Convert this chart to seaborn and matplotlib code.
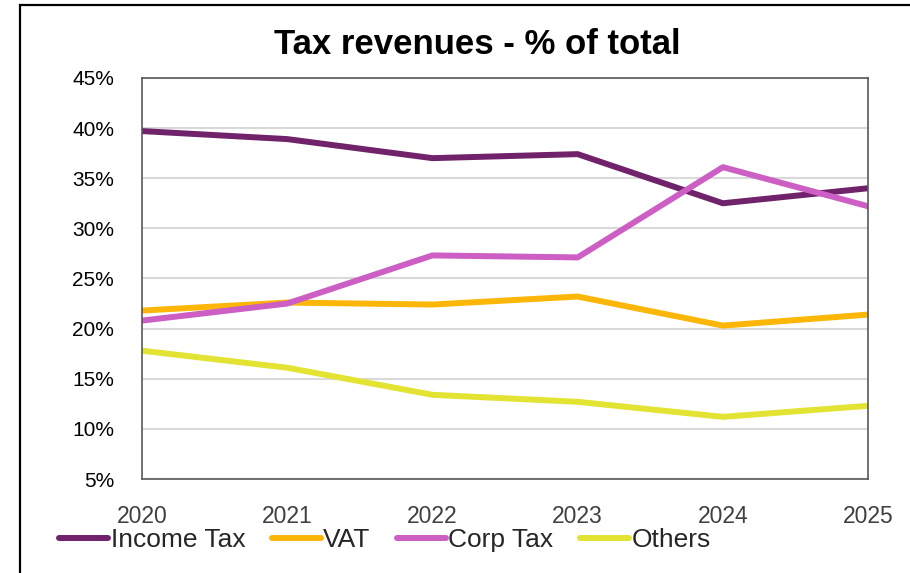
import matplotlib
matplotlib.use("Agg")
import matplotlib.pyplot as plt
from matplotlib.patches import Rectangle
from matplotlib.ticker import FuncFormatter
import pandas as pd
import seaborn as sns

years = [2020, 2021, 2022, 2023, 2024, 2025]
income_tax = [39.7, 38.9, 37.0, 37.4, 32.5, 34.0]
vat = [21.8, 22.6, 22.4, 23.2, 20.3, 21.4]
corp_tax = [20.8, 22.5, 27.3, 27.1, 36.1, 32.2]
others = [17.8, 16.1, 13.4, 12.7, 11.2, 12.3]

series_names = ["Income Tax", "VAT", "Corp Tax", "Others"]
series_colors = ["#70226A", "#FBB608", "#CC5EC4", "#E2E332"]

df = pd.DataFrame({
    "year": years * 4,
    "share": income_tax + vat + corp_tax + others,
    "tax": [n for n in series_names for _ in years],
})

sns.set_theme(style="white")
plt.rcParams["font.family"] = ["Liberation Sans", "DejaVu Sans"]

fig = plt.figure(figsize=(9.1, 5.73), dpi=100)
ax = fig.add_axes([0.156, 0.164, 0.798, 0.700])

sns.lineplot(data=df, x="year", y="share", hue="tax", hue_order=series_names,
             palette=series_colors, linewidth=4.3, ax=ax, legend=True)
for ln in ax.lines:
    ln.set_solid_capstyle("round")
    ln.set_solid_joinstyle("round")

ax.set_xlim(2020, 2025)
ax.set_ylim(5, 45)
ax.set_xticks(years)
ax.set_yticks(range(5, 46, 5))
ax.yaxis.set_major_formatter(FuncFormatter(lambda v, p: f"{v:.0f}%"))
ax.set_xlabel("")
ax.set_ylabel("")
ax.grid(axis="y", color="#D9D9D9", linewidth=1.5)
ax.set_axisbelow(True)
ax.tick_params(axis="y", length=0, pad=20, labelsize=15, labelcolor="black")
ax.tick_params(axis="x", length=0, pad=19, labelsize=16.5, labelcolor="#404040")
for s in ax.spines.values():
    s.set_color("#595959")
    s.set_linewidth(1.2)

handles, labels = ax.get_legend_handles_labels()
ax.get_legend().remove()
for h in handles:
    h.set_linewidth(4.3)
    h.set_solid_capstyle("round")
fig.legend(handles, labels, loc="center", bbox_to_anchor=(0.423, 1 - 540 / 573),
           ncol=4, frameon=False, fontsize=19, handlelength=1.85,
           handletextpad=0.1, columnspacing=1.0, borderaxespad=0)

fig.text(0.524, 1 - 45 / 573, "Tax revenues - % of total", ha="center", va="center",
         fontsize=25, fontweight="bold", color="black")

# outer chart frame (cut off on the right and bottom)
fig.patches.append(Rectangle((20 / 910, -0.1), 1.2, 1.1 - 5 / 573, transform=fig.transFigure,
                             fill=False, edgecolor="black", linewidth=1.6))

fig.savefig("out.png", dpi=100)
